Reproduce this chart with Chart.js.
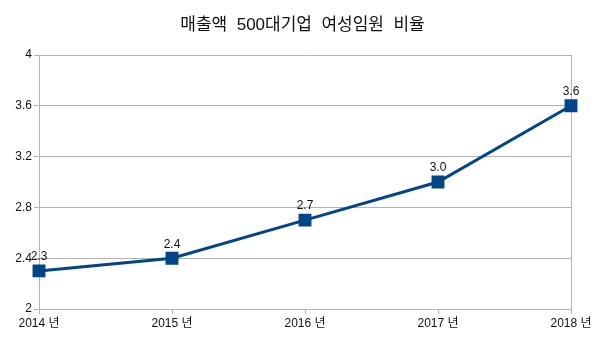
<!DOCTYPE html>
<html>
<head>
<meta charset="utf-8">
<script src="https://cdn.jsdelivr.net/npm/chart.js@4/dist/chart.umd.min.js"></script>
<style>
  html, body { margin: 0; padding: 0; background: #fff; }
  #wrap { width: 605px; height: 340px; }
</style>
</head>
<body>
<div id="wrap"><canvas id="ratioChart" width="605" height="340"></canvas></div>
<script>
const chartTitle = '매출액  500대기업  여성임원  비율';
const years = ['2014 년', '2015 년', '2016 년', '2017 년', '2018 년'];
const ratios = [2.3, 2.4, 2.7, 3.0, 3.6];
const yTicks = [2, 2.4, 2.8, 3.2, 3.6, 4];

const fontFamily = '"Liberation Sans", "Noto Sans CJK KR", sans-serif';
const gridColor = '#b3b3b3';
const lineColor = '#004586';

// title centred on the whole canvas, not just the plot
const pageTitle = {
    id: 'pageTitle',
    afterDraw(chart) {
        const ctx = chart.ctx;
        ctx.save();
        ctx.font = '17px ' + fontFamily;
        ctx.fillStyle = '#111';
        ctx.textAlign = 'center';
        ctx.textBaseline = 'middle';
        ctx.fillText(chartTitle, chart.width / 2, 25);
        ctx.restore();
    }
};

// draws the value above each point
const valueLabels = {
    id: 'valueLabels',
    afterDatasetsDraw(chart) {
        const ctx = chart.ctx;
        const meta = chart.getDatasetMeta(0);
        ctx.save();
        ctx.font = '12px ' + fontFamily;
        ctx.fillStyle = '#111';
        ctx.textAlign = 'center';
        ctx.textBaseline = 'bottom';
        meta.data.forEach((pt, i) => {
            ctx.fillText(ratios[i].toFixed(1), pt.x, pt.y - 8);
        });
        ctx.restore();
    }
};

const config = {
    type: 'line',
    data: {
        labels: years,
        datasets: [{
            data: ratios,
            borderColor: lineColor,
            backgroundColor: lineColor,
            borderWidth: 3,
            pointStyle: 'rect',
            pointRadius: 7,
            pointHoverRadius: 7,
            tension: 0
        }]
    },
    options: {
        responsive: false,
        animation: false,
        layout: { padding: { left: 0, right: 34, top: 55, bottom: 0 } },
        plugins: {
            legend: { display: false },
            tooltip: { enabled: false },
            title: { display: false }
        },
        scales: {
            x: {
                offset: false,
                grid: {
                    // only the first and last category get a full line
                    color: c => (c.index === 0 || c.index === years.length - 1) ? gridColor : 'rgba(0,0,0,0)',
                    tickColor: gridColor,
                    tickLength: 5,
                    drawTicks: true
                },
                border: { color: gridColor },
                ticks: { color: '#111', font: { family: fontFamily, size: 12 }, padding: 2, maxRotation: 0 },
                afterFit(scale) { scale.height = 31; }
            },
            y: {
                min: 2,
                max: 4,
                afterBuildTicks(scale) { scale.ticks = yTicks.map(v => ({ value: v })); },
                grid: { color: gridColor, tickLength: 5 },
                border: { color: gridColor },
                ticks: {
                    color: '#111',
                    font: { family: fontFamily, size: 12 },
                    padding: 2,
                    callback: v => String(Math.round(v * 10) / 10)
                },
                afterFit(scale) { scale.width = 39; }
            }
        }
    },
    plugins: [valueLabels, pageTitle]
};

const ctx = document.getElementById('ratioChart').getContext('2d');
window.ratioChartInstance = new Chart(ctx, config);
</script>
</body>
</html>
